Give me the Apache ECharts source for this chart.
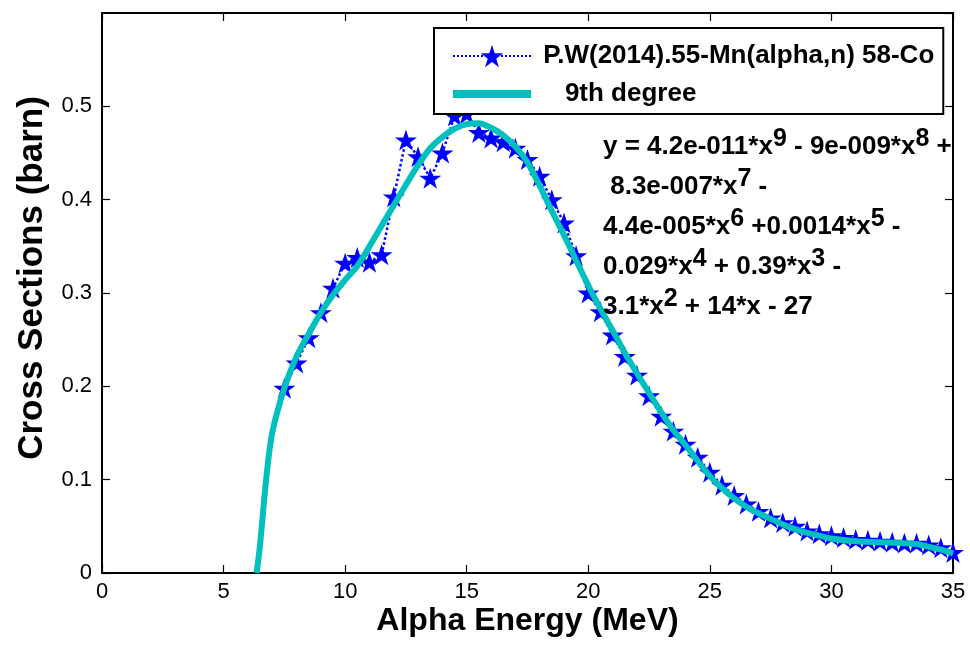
<!DOCTYPE html>
<html>
<head>
<meta charset="utf-8">
<script src="https://cdn.jsdelivr.net/npm/echarts@6/dist/echarts.min.js"></script>
<style>
  html, body { margin: 0; padding: 0; background: #fff; }
  #chart { width: 970px; height: 650px; }
</style>
</head>
<body>
<div id="chart"></div>
<script>
// ---- Data ----
const energy = [7.5, 8, 8.5, 9, 9.5, 10, 10.5, 11, 11.5, 12, 12.5, 13, 13.5, 14, 14.5, 15,
  15.5, 16, 16.5, 17, 17.5, 18, 18.5, 19, 19.5, 20, 20.5, 21, 21.5, 22, 22.5, 23, 23.5, 24,
  24.5, 25, 25.5, 26, 26.5, 27, 27.5, 28, 28.5, 29, 29.5, 30, 30.5, 31, 31.5, 32, 32.5, 33,
  33.5, 34, 34.5, 35];
const crossSection = [0.198, 0.225, 0.252, 0.279, 0.305, 0.332, 0.338, 0.333, 0.341, 0.403,
  0.464, 0.446, 0.423, 0.450, 0.490, 0.492, 0.472, 0.466, 0.462, 0.455, 0.443, 0.425, 0.400,
  0.375, 0.340, 0.300, 0.280, 0.255, 0.232, 0.212, 0.190, 0.168, 0.152, 0.138, 0.124, 0.108,
  0.094, 0.083, 0.074, 0.066, 0.059, 0.054, 0.050, 0.045, 0.042, 0.040, 0.038, 0.036, 0.035,
  0.034, 0.033, 0.032, 0.032, 0.030, 0.027, 0.022];

const fitEnergy = [6.36, 6.5, 6.75, 7.0, 7.5, 8.0, 8.5, 9.0, 9.5, 10.0, 10.5, 11.0, 11.5, 12.0,
  12.5, 13.0, 13.5, 14.0, 14.5, 15.0, 15.5, 16.0, 16.5, 17.0, 17.5, 18.0, 18.5, 19.0, 19.5,
  20.0, 20.5, 21.0, 21.5, 22.0, 22.5, 23.0, 23.5, 24.0, 24.5, 25.0, 25.5, 26.0, 26.5, 27.0,
  27.5, 28.0, 28.5, 29.0, 29.5, 30.0, 31.0, 32.0, 33.0, 33.5, 34.0, 34.5, 35.0];
const fitValues = [0, 0.03, 0.1, 0.15, 0.198, 0.232, 0.256, 0.279, 0.298, 0.314, 0.329, 0.35,
  0.372, 0.394, 0.416, 0.437, 0.455, 0.467, 0.476, 0.481, 0.482, 0.477, 0.469, 0.457, 0.44,
  0.415, 0.388, 0.362, 0.335, 0.308, 0.283, 0.26, 0.236, 0.214, 0.193, 0.172, 0.153, 0.137,
  0.12, 0.104, 0.091, 0.08, 0.071, 0.064, 0.058, 0.052, 0.047, 0.043, 0.04, 0.037, 0.034,
  0.033, 0.032, 0.031, 0.028, 0.025, 0.021];

const seriesNames = ['P.W(2014).55-Mn(alpha,n) 58-Co', '9th degree'];
const equationLines = [
  'y = 4.2e-011*x{s|9} - 9e-009*x{s|8} +',
  ' 8.3e-007*x{s|7} -',
  '4.4e-005*x{s|6} +0.0014*x{s|5} -',
  '0.029*x{s|4} + 0.39*x{s|3} -',
  '3.1*x{s|2} + 14*x - 27'
];

// ---- Chart ----
const FONT = '"Liberation Sans", Arial, Helvetica, sans-serif';
const STAR = 'path://M50,0 L61.23,34.55 L97.55,34.55 L68.17,55.9 L79.39,90.45 L50,69.1 L20.61,90.45 L31.83,55.9 L2.45,34.55 L38.77,34.55 Z';

const zip = (xs, ys) => xs.map((x, i) => [x, ys[i]]);

const axisCommon = {
  axisLine: { show: true, onZero: false, lineStyle: { color: '#000', width: 2 } },
  axisTick: { show: true, inside: true, length: 8, lineStyle: { color: '#000', width: 1.2 } },
  splitLine: { show: false }
};

const chart = echarts.init(document.getElementById('chart'), null, { renderer: 'canvas' });
chart.setOption({
  backgroundColor: '#fff',
  animation: false,
  grid: { left: 102, right: 17, top: 13, bottom: 77, containLabel: false },
  xAxis: [
    Object.assign({}, axisCommon, {
      type: 'value', min: 0, max: 35, interval: 5, position: 'bottom',
      name: 'Alpha Energy (MeV)', nameLocation: 'middle', nameGap: 32, nameMoveOverlap: false,
      nameTextStyle: { fontFamily: FONT, fontSize: 32, fontWeight: 'bold', color: '#000', verticalAlign: 'top' },
      axisLabel: { fontFamily: FONT, fontSize: 22, color: '#000', margin: 8 }
    }),
    Object.assign({}, axisCommon, {
      type: 'value', min: 0, max: 35, interval: 5, position: 'top',
      axisLabel: { show: false }
    })
  ],
  yAxis: [
    Object.assign({}, axisCommon, {
      type: 'value', min: 0, max: 0.6, interval: 0.1, position: 'left',
      name: 'Cross Sections (barn)', nameLocation: 'middle', nameGap: 52, nameMoveOverlap: false,
      nameTextStyle: { fontFamily: FONT, fontSize: 35, fontWeight: 'bold', color: '#000', padding: [0, 0, 0, 30] },
      axisLabel: { fontFamily: FONT, fontSize: 22, color: '#000', margin: 10, showMaxLabel: false }
    }),
    Object.assign({}, axisCommon, {
      type: 'value', min: 0, max: 0.6, interval: 0.1, position: 'right',
      axisLabel: { show: false }
    })
  ],
  legend: {
    orient: 'vertical', left: 434, top: 28,
    padding: [15, 9, 7, 15], itemGap: 12,
    itemWidth: 78, itemHeight: 28,
    backgroundColor: '#fff', borderColor: '#000', borderWidth: 2, borderRadius: 0,
    data: [
      { name: seriesNames[0] },
      { name: seriesNames[1], itemStyle: { opacity: 0 }, lineStyle: { width: 8 } }
    ],
    formatter: function (name) { return name === seriesNames[1] ? '    ' + name : ' ' + name; },
    textStyle: { fontFamily: FONT, fontSize: 26, fontWeight: 'bold', color: '#000' }
  },
  graphic: [{
    type: 'text', left: 603, top: 127, z: 10,
    style: {
      text: equationLines.join('\n'),
      fontFamily: FONT, fontSize: 26, fontWeight: 'bold', fill: '#000', lineHeight: 40,
      rich: {
        s: { fontFamily: FONT, fontSize: 25, fontWeight: 'bold', fill: '#000', lineHeight: 25, verticalAlign: 'top' }
      }
    }
  }],
  series: [
    {
      name: seriesNames[0], type: 'line', xAxisIndex: 0, yAxisIndex: 0,
      data: zip(energy, crossSection),
      symbol: STAR, symbolSize: 22, symbolKeepAspect: true, showSymbol: true,
      itemStyle: { color: '#0000FF', borderWidth: 0 },
      lineStyle: { color: '#0000FF', width: 2.5, type: 'dotted' },
      clip: false, z: 2
    },
    {
      name: seriesNames[1], type: 'line', xAxisIndex: 0, yAxisIndex: 0,
      data: zip(fitEnergy, fitValues),
      symbol: 'none', smooth: 0.3,
      itemStyle: { color: '#00BFBF' },
      lineStyle: { color: '#00BFBF', width: 6 },
      z: 3
    }
  ]
});
</script>
</body>
</html>
